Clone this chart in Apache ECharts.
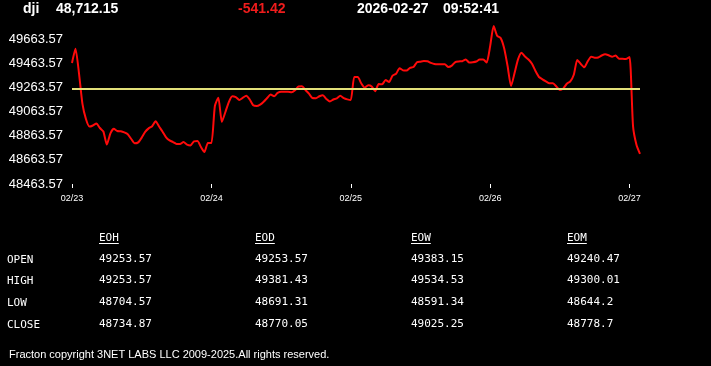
<!DOCTYPE html>
<html>
<head>
<meta charset="utf-8">
<script src="https://cdn.jsdelivr.net/npm/echarts@6/dist/echarts.min.js"></script>
<style>
html,body{margin:0;padding:0;background:#000;}
#chart{width:711px;height:366px;}
</style>
</head>
<body>
<div id="chart"></div>
<script>
// ---- header ----
const ticker = 'dji';
const lastPrice = '48,712.15';
const change = '-541.42';
const quoteDate = '2026-02-27';
const quoteTime = '09:52:41';

// ---- axis ----
const dayLabels = ['02/23', '02/24', '02/25', '02/26', '02/27'];
const yMin = 48463.57;
const yMax = 49663.57;
const yStep = 200;
const refLevel = 49253.57;

// ---- price series, one array per day ----
const day1 = [49465, 49583, 49382, 49126, 49001, 48939, 48948, 48965, 48927, 48898,
  48790, 48881, 48920, 48902, 48900, 48891, 48876, 48836, 48800, 48808,
  48847, 48895, 48924, 48942, 48983, 48939, 48896, 48849, 48824, 48811,
  48795, 48795, 48811, 48790, 48783, 48817, 48819, 48770, 48728, 48803];
const day2 = [48803, 49109, 49178, 48977, 49057, 49142, 49190, 49183, 49159, 49177,
  49194, 49163, 49115, 49109, 49121, 49145, 49175, 49204, 49190, 49217,
  49227, 49227, 49227, 49222, 49239, 49271, 49272, 49241, 49211, 49175,
  49173, 49190, 49199, 49167, 49147, 49163, 49172, 49193, 49174, 49164];
const day3 = [49159, 49349, 49349, 49297, 49261, 49281, 49271, 49231, 49291, 49289,
  49324, 49308, 49361, 49376, 49422, 49404, 49402, 49425, 49432, 49471,
  49476, 49481, 49479, 49466, 49456, 49454, 49454, 49454, 49432, 49443,
  49473, 49478, 49480, 49494, 49469, 49471, 49477, 49494, 49494, 49469];
const day4 = [49605, 49771, 49690, 49672, 49589, 49440, 49274, 49382, 49495, 49550,
  49518, 49494, 49459, 49399, 49349, 49330, 49313, 49297, 49297, 49271,
  49241, 49255, 49293, 49313, 49368, 49490, 49457, 49429, 49479, 49517,
  49509, 49511, 49527, 49537, 49529, 49517, 49526, 49500, 49500, 49498];
const day5 = [49514, 48943, 48786, 48712.15];

// ---- table ----
const rowLabels = ['OPEN', 'HIGH', 'LOW', 'CLOSE'];
const colHeaders = ['EOH', 'EOD', 'EOW', 'EOM'];
const eohVals = ['49253.57', '49253.57', '48704.57', '48734.87'];
const eodVals = ['49253.57', '49381.43', '48691.31', '48770.05'];
const eowVals = ['49383.15', '49534.53', '48591.34', '49025.25'];
const eomVals = ['49240.47', '49300.01', '48644.2', '48778.7'];
const footerText = 'Fracton copyright 3NET LABS LLC 2009-2025.All rights reserved.';

// ---- build ----
const days = [day1, day2, day3, day4, day5];
const prices = [];
const categories = [];
const dayStart = {};
days.forEach((d, di) => {
  dayStart[prices.length] = dayLabels[di];
  d.forEach((v, k) => { prices.push(v); categories.push(dayLabels[di] + ' #' + k); });
});

const monoFont = '11px "DejaVu Sans Mono", monospace';
const sansFont = '"Liberation Sans", Arial, sans-serif';
const graphics = [];
function txt(s, x, y, font, fill) {
  graphics.push({ type: 'text', x: x, y: y, silent: true,
    style: { text: s, font: font, fill: fill || '#fff', align: 'left', verticalAlign: 'middle' } });
}
// header
const hFont = 'bold 14px ' + sansFont;
txt(ticker, 23, 9, hFont);
txt(lastPrice, 56, 9, hFont);
txt(change, 238, 9, hFont, '#ee1c1c');
txt(quoteDate, 357, 9, hFont);
txt(quoteTime, 443, 9, hFont);
// table
const colX = [99, 255, 411, 567];
const rowY = [259, 280.5, 302.5, 324.5];
const colVals = [eohVals, eodVals, eowVals, eomVals];
colHeaders.forEach((h, ci) => {
  txt(h, colX[ci], 238.5, monoFont);
  graphics.push({ type: 'line', silent: true,
    shape: { x1: colX[ci], y1: 243.5, x2: colX[ci] + h.length * 6.6, y2: 243.5 },
    style: { stroke: '#fff', lineWidth: 1 } });
});
rowLabels.forEach((r, ri) => {
  txt(r, 7, rowY[ri] + 1, monoFont);
  colVals.forEach((vals, ci) => txt(vals[ri], colX[ci], rowY[ri], monoFont));
});
txt(footerText, 9, 354.5, '11px ' + sansFont);

const chart = echarts.init(document.getElementById('chart'), null, { renderer: 'canvas' });
chart.setOption({
  backgroundColor: '#000',
  animation: false,
  grid: { left: 72, right: 71, top: 39, bottom: 182 },
  xAxis: {
    type: 'category',
    data: categories,
    boundaryGap: false,
    axisLine: { show: false },
    axisTick: { show: true, length: 4, interval: (i) => dayStart[i] !== undefined, lineStyle: { color: '#fff', width: 1 } },
    axisLabel: {
      interval: (i) => dayStart[i] !== undefined,
      formatter: (v) => v.split(' #')[0],
      color: '#fff', fontSize: 9, fontFamily: sansFont, margin: 10
    },
    splitLine: { show: false }
  },
  yAxis: {
    type: 'value',
    min: yMin, max: yMax, interval: yStep,
    axisLine: { show: false }, axisTick: { show: false },
    splitLine: { show: false },
    axisLabel: { color: '#fff', fontSize: 13, fontFamily: sansFont, margin: 9,
      formatter: (v) => v.toFixed(2) }
  },
  series: [{
    type: 'line',
    data: prices,
    clip: false,
    showSymbol: false,
    smooth: 0.2,
    lineStyle: { color: '#ff0a0a', width: 2 },
    markLine: {
      silent: true, symbol: 'none', label: { show: false },
      lineStyle: { color: '#e2e07a', width: 2, type: 'solid' },
      data: [{ yAxis: refLevel }]
    }
  }],
  graphic: graphics
});
</script>
</body>
</html>
